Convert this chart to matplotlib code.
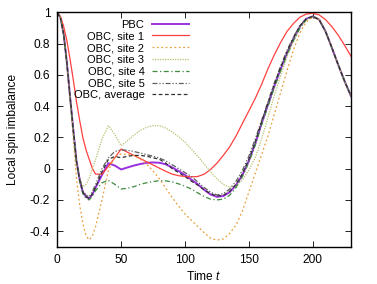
import matplotlib
matplotlib.use("Agg")
import matplotlib.pyplot as plt

plt.rcParams["font.family"] = ["Liberation Sans", "DejaVu Sans"]
plt.rcParams["font.size"] = 8.6
plt.rcParams["axes.unicode_minus"] = False
plt.rcParams["mathtext.fontset"] = "custom"
plt.rcParams["mathtext.it"] = "Liberation Sans:italic"

# time grid and local spin imbalance
time = [0, 2.5, 5, 7.5, 10, 12.5, 15, 17.5, 20, 22.5, 25, 27.5, 30, 35, 40, 45, 50, 55,
        60, 65, 70, 75, 80, 85, 90, 95, 100, 105, 110, 115, 120, 125, 130, 135, 140, 145,
        150, 155, 160, 165, 170, 175, 180, 185, 190, 195, 200, 205, 210, 215, 220, 225, 230]

pbc = [1.0, 0.965, 0.86, 0.68, 0.46, 0.25, 0.05, -0.07, -0.15, -0.18, -0.19, -0.165,
       -0.12, -0.04, 0.035, 0.02, -0.005, 0.008, 0.02, 0.03, 0.038, 0.04, 0.038, 0.028,
       0.008, -0.015, -0.04, -0.07, -0.1, -0.135, -0.165, -0.18, -0.175, -0.15, -0.105,
       -0.04, 0.05, 0.16, 0.29, 0.41, 0.53, 0.64, 0.74, 0.83, 0.91, 0.96, 0.975, 0.955,
       0.88, 0.775, 0.665, 0.56, 0.465]

site1 = [1.0, 0.975, 0.91, 0.82, 0.7, 0.57, 0.43, 0.31, 0.2, 0.12, 0.06, 0.0, -0.035,
         -0.035, 0.015, 0.07, 0.126, 0.105, 0.085, 0.065, 0.044, 0.024, 0.003, -0.017,
         -0.035, -0.045, -0.05, -0.052, -0.05, -0.035, -0.005, 0.035, 0.085, 0.14, 0.21,
         0.29, 0.37, 0.45, 0.54, 0.64, 0.73, 0.81, 0.88, 0.93, 0.97, 0.99, 0.995, 0.985,
         0.955, 0.91, 0.855, 0.79, 0.72]

site2 = [1.0, 0.965, 0.86, 0.67, 0.44, 0.2, -0.06, -0.23, -0.35, -0.43, -0.455, -0.43,
         -0.37, -0.2, -0.01, 0.075, 0.095, 0.09, 0.085, 0.06, 0.03, -0.015, -0.065,
         -0.125, -0.185, -0.24, -0.29, -0.33, -0.37, -0.41, -0.445, -0.457, -0.45,
         -0.415, -0.36, -0.27, -0.15, -0.03, 0.09, 0.21, 0.35, 0.49, 0.63, 0.76, 0.87,
         0.94, 0.97, 0.955, 0.88, 0.775, 0.665, 0.56, 0.465]

site3 = [1.0, 0.965, 0.86, 0.68, 0.46, 0.25, 0.03, -0.06, -0.115, -0.1, -0.06, 0.0, 0.06,
         0.19, 0.275, 0.22, 0.147, 0.18, 0.215, 0.245, 0.265, 0.276, 0.275, 0.26, 0.235,
         0.205, 0.17, 0.125, 0.08, 0.03, -0.02, -0.065, -0.1, -0.118, -0.11, -0.07, -0.01,
         0.07, 0.19, 0.33, 0.47, 0.6, 0.72, 0.82, 0.9, 0.955, 0.975, 0.955, 0.88, 0.775,
         0.665, 0.56, 0.465]

site4 = [1.0, 0.965, 0.86, 0.67, 0.45, 0.24, 0.04, -0.08, -0.16, -0.19, -0.2, -0.175,
         -0.14, -0.09, -0.075, -0.1, -0.13, -0.125, -0.115, -0.1, -0.09, -0.082, -0.077,
         -0.078, -0.085, -0.097, -0.112, -0.13, -0.155, -0.178, -0.195, -0.2, -0.195,
         -0.17, -0.12, -0.05, 0.04, 0.15, 0.28, 0.4, 0.52, 0.63, 0.73, 0.82, 0.9, 0.955,
         0.975, 0.955, 0.88, 0.775, 0.665, 0.56, 0.465]

site5 = [1.0, 0.965, 0.86, 0.68, 0.46, 0.25, 0.05, -0.06, -0.14, -0.17, -0.18, -0.145,
         -0.1, 0.0, 0.07, 0.11, 0.12, 0.118, 0.11, 0.1, 0.09, 0.08, 0.068, 0.05, 0.025,
         0.0, -0.025, -0.05, -0.085, -0.12, -0.15, -0.168, -0.16, -0.13, -0.08, -0.01,
         0.08, 0.19, 0.31, 0.43, 0.55, 0.66, 0.76, 0.845, 0.915, 0.96, 0.975, 0.955, 0.88,
         0.775, 0.665, 0.56, 0.465]

average = [1.0, 0.965, 0.86, 0.68, 0.46, 0.25, 0.05, -0.07, -0.15, -0.18, -0.19, -0.16,
           -0.12, -0.02, 0.06, 0.078, 0.07, 0.08, 0.085, 0.085, 0.08, 0.07, 0.06, 0.035,
           0.0, -0.025, -0.05, -0.08, -0.105, -0.135, -0.16, -0.175, -0.17, -0.145, -0.1,
           -0.03, 0.06, 0.17, 0.3, 0.42, 0.54, 0.65, 0.75, 0.84, 0.915, 0.96, 0.975, 0.955,
           0.88, 0.775, 0.665, 0.56, 0.465]

fig = plt.figure(figsize=(3.77, 2.84), dpi=100)
ax = fig.add_axes([0.152, 0.131, 0.779, 0.825])

ax.plot(time, pbc, color="#9b30e0", lw=1.4, label="PBC")
ax.plot(time, site1, color="#ff4040", lw=0.9, label="OBC, site 1")
ax.plot(time, site2, color="#e8a040", lw=0.9, ls=(0, (1.5, 2)), label="OBC, site 2")
ax.plot(time, site3, color="#b8c070", lw=0.9, ls=(0, (1, 1)), label="OBC, site 3")
ax.plot(time, site4, color="#3e8a3e", lw=0.9, ls=(0, (4, 2, 1, 2)), label="OBC, site 4")
ax.plot(time, site5, color="#606060", lw=0.9, ls=(0, (4, 1.5, 1, 1.5, 1, 1.5)), label="OBC, site 5")
ax.plot(time, average, color="#303030", lw=0.9, ls=(0, (3, 2)), label="OBC, average")

ax.set_xlim(0, 230)
ax.set_ylim(-0.5, 1.0)
ax.set_xticks([0, 50, 100, 150, 200])
ax.set_yticks([-0.4, -0.2, 0, 0.2, 0.4, 0.6, 0.8, 1])
ax.set_yticklabels(["-0.4", "-0.2", "0", "0.2", "0.4", "0.6", "0.8", "1"])
ax.tick_params(direction="in", top=True, right=True, length=4, width=0.6, pad=5)
for s in ax.spines.values():
    s.set_linewidth(1.0)

ax.set_xlabel("Time $t$", labelpad=3)
ax.set_ylabel("Local spin imbalance", labelpad=8)

ax.legend(loc="upper right", bbox_to_anchor=(0.448, 0.970), frameon=False,
          markerfirst=False, handlelength=3.3, handletextpad=0.7, labelspacing=0.16,
          borderpad=0, borderaxespad=0, fontsize=8)

fig.savefig("out.png", dpi=100)
